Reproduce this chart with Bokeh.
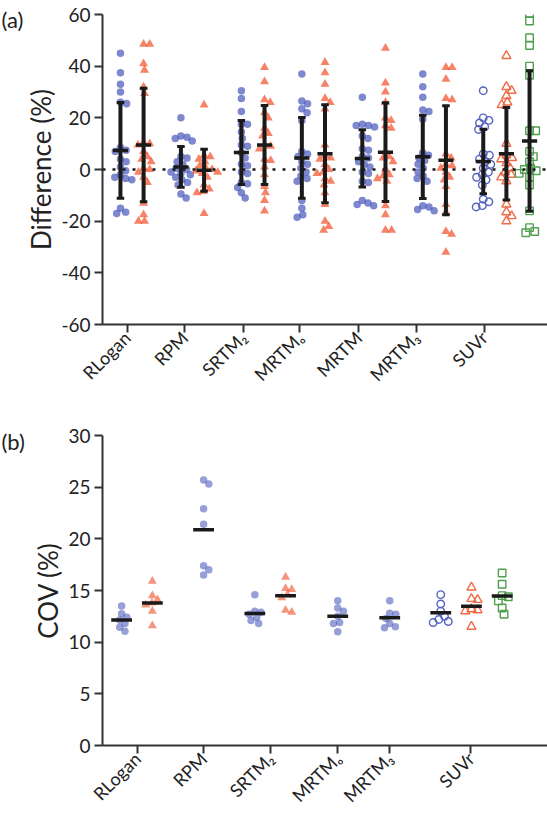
import numpy as np
from bokeh.plotting import figure
from bokeh.models import Range1d, FixedTicker, Span, Label
from bokeh.layouts import column
from bokeh.embed import file_html
from bokeh.resources import INLINE

# ---------------- data: panel (a) Difference (%) ----------------
top_labels = ["RLogan", "RPM", "SRTM\u2082", "MRTM\u2092", "MRTM", "MRTM\u2083", "SUVr"]
top_yticks = [-60, -40, -20, 0, 20, 40, 60]

rlogan_a = [45, 37.5, 33, 30, 26, 25.5, 8.5, 7.5, 7, 4, 3, 1, -0.5, -2, -3, -3.5, -4, -15, -16.5, -17]
rlogan_b = [48.5, 48.5, 41, 38.5, 32, 29.5, 10.5, 10, 9.5, 7, 5, 4, 3, 0.5, 0, -1, -3, -5, -13, -17.5, -20, -20]
rpm_a = [20, 13, 12.5, 12, 11, 5, 4.5, 3, 2, 0.5, 0, -1, -1.5, -2, -3, -4, -5, -6, -9.5, -11]
rpm_b = [25, 5.5, 5, 4, 3, 1.5, 0.5, 0, -0.5, -1, -1.5, -3, -6, -7.5, -8.5, -9, -17]
srtm2_a = [30.5, 27.5, 22.5, 17.5, 17.5, 14.5, 12, 9.5, 9, 6.5, 4.5, 2, 1.5, -1, -1.5, -5, -5.5, -7, -9, -11]
srtm2_b = [39.5, 34, 27, 26, 22, 20, 16, 14, 13, 9.5, 9, 8, 4, 3.5, 1, -2, -6.5, -9, -12, -16]
mrtmo_a = [37, 26.5, 25.5, 23.5, 22, 19, 7, 6, 5, 3, 2, 0.5, -1, -2.5, -3.5, -4.5, -12, -15, -17.5, -18.5]
mrtmo_b = [41.5, 37.5, 33, 27.5, 26, 23.5, 9.5, 5.5, 4.5, 4, 2, 0, -1, -1.5, -3.5, -4.5, -6, -9, -13.5, -20, -22, -23.5]
mrtm_a = [28, 17.5, 17, 17, 16.5, 13, 12, 8, 7.5, 5, 4.5, 3, 2, 1, -1, -1.5, -4.5, -5, -12, -13, -13.5, -14]
mrtm_b = [47, 33.5, 30, 26, 20, 19, 17, 16, 7, 5, 4.5, 3, 0, -2, -2.5, -3.5, -4.5, -14, -17.5, -23.5, -23.5]
mrtm3_a = [37, 32, 28, 23, 22.5, 19.5, 6.5, 5.5, 4.5, 3.5, 2, 0.5, -1, -2.5, -3.5, -4.5, -14, -14.5, -15.5, -16]
mrtm3_b = [39.5, 39.5, 35, 27.5, 27, 6, 4.5, 2, 1.5, 0.5, -1, -3, -4, -6.5, -13.5, -16.5, -24, -25, -32]
suvr_a = [30.5, 20, 19, 18, 16.5, 15.5, 6, 5.5, 4, 3, 2, 0.5, -1, -2, -3, -4, -6, -11.5, -12.5, -14, -14.5]
suvr_b = [44, 32, 30.5, 28.5, 26, 25, 10, 5.5, 4.5, 4, 2.5, 0.5, -1, -2, -3, -4.5, -13.5, -16.5, -18, -20]
suvr_c = [60.5, 57.5, 51, 48, 40, 36.5, 15, 15, 7, 5, 3, 0.5, 0, -0.5, -1.5, -3, -6, -16, -22.5, -24, -24.5]

# mean and SD (error bars) per column
diff_mean = [7.4, 9.5, 1.0, -0.3, 6.6, 9.5, 4.5, 6.1, 4.3, 6.7, 4.9, 3.6, 3.1, 6.1, 11.0]
diff_sd = [18.5, 22.0, 7.9, 8.1, 12.4, 15.3, 15.6, 19.0, 11.1, 19.1, 16.1, 21.1, 12.5, 17.9, 27.2]

# ---------------- data: panel (b) COV (%) ----------------
bot_labels = ["RLogan", "RPM", "SRTM\u2082", "MRTM\u2092", "MRTM\u2083", "SUVr"]
bot_yticks = [0, 5, 10, 15, 20, 25, 30]

cov_rlogan_a = [13.5, 12.75, 12.4, 12.15, 11.8, 11.45, 11.05]
cov_rlogan_b = [15.9, 14.5, 14.1, 13.8, 13.6, 13.0, 11.6]
cov_rpm_a = [25.7, 25.3, 22.9, 21.4, 17.4, 17.0, 16.5]
cov_srtm2_a = [14.6, 13.0, 12.9, 12.7, 12.4, 12.1, 11.8]
cov_srtm2_b = [16.3, 15.2, 15.1, 14.6, 14.3, 13.1, 12.9]
cov_mrtmo_a = [14.0, 13.3, 13.0, 12.5, 11.9, 11.8, 11.0]
cov_mrtm3_a = [14.0, 12.8, 12.7, 12.3, 11.8, 11.5, 11.4]
cov_suvr_a = [14.6, 13.7, 13.0, 12.5, 12.2, 12.0, 11.9]
cov_suvr_b = [15.3, 14.2, 14.1, 13.2, 13.1, 13.0, 11.5]
cov_suvr_c = [16.7, 15.6, 14.5, 14.4, 14.0, 13.3, 12.7]

# ---------------- styles ----------------
FONT = "Lato"
BLUE = "#4150b8"
ORANGE = "#f2532e"
GREEN = "#4f9f4f"
OBLUE = "#5563c0"
OORANGE = "#ef6a47"
INK = "#1a1a1a"
TXT = "#222222"

STYLE = {
    "a": dict(marker="circle", fill_color=BLUE, fill_alpha=0.68, line_alpha=0, size=7.5),
    "b": dict(marker="triangle", fill_color=ORANGE, fill_alpha=0.72, line_alpha=0, size=9),
    "oa": dict(marker="circle", fill_alpha=0, line_color=OBLUE, line_width=1.4, size=7.5),
    "ob": dict(marker="triangle", fill_alpha=0, line_color=OORANGE, line_width=1.4, size=9),
    "oc": dict(marker="square", fill_alpha=0, line_color=GREEN, line_width=1.4, size=7.5),
}


def swarm(vals, cx, px_per_unit, d=6.5):
    vals = list(vals)
    order = sorted(range(len(vals)), key=lambda i: -vals[i])
    placed = []
    xs = [0.0] * len(vals)
    cands = [0.0]
    for k in range(1, 80):
        cands += [0.5 * k, -0.5 * k]
    for i in order:
        yv = vals[i] * px_per_unit
        chosen = cands[-1]
        for off in cands:
            if all((off - px) ** 2 + (yv - py) ** 2 >= d * d for px, py in placed):
                chosen = off
                break
        placed.append((chosen, yv))
        xs[i] = cx + chosen
    return xs


def style_axes(p, ylabel, yticks):
    for ax in (p.xaxis[0], p.yaxis[0]):
        ax.axis_line_width = 2
        ax.axis_line_color = "#333333"
        ax.major_tick_line_width = 2
        ax.major_tick_line_color = "#333333"
        ax.major_tick_out = 8
        ax.major_tick_in = 0
        ax.minor_tick_line_color = None
        ax.major_label_text_font = FONT
        ax.major_label_text_color = TXT
    p.yaxis.ticker = FixedTicker(ticks=yticks)
    p.yaxis.major_label_overrides = {t: str(t) for t in yticks}
    p.yaxis.major_label_text_font_size = "19px"
    p.xaxis.major_label_text_font_size = "18px"
    p.yaxis.axis_label = ylabel
    p.yaxis.axis_label_text_font = FONT
    p.yaxis.axis_label_text_font_size = "26px"
    p.yaxis.axis_label_text_font_style = "normal"
    p.yaxis.axis_label_text_color = TXT
    p.yaxis.axis_label_standoff = 1
    p.yaxis.major_label_standoff = 4
    p.xaxis.major_label_orientation = np.pi / 4
    p.xaxis.major_label_standoff = 2
    p.xgrid.visible = False
    p.ygrid.visible = False
    p.outline_line_color = None


def panel_tag(p, text, yval):
    lab = Label(x=1, y=yval, x_units="canvas", y_units="data", text=text,
                text_font=FONT, text_font_size="22px", text_color=TXT,
                text_baseline="middle", text_align="left")
    p.add_layout(lab, "left")


# ---------------- panel (a) ----------------
FW = 471
p1 = figure(width=547, height=400, x_range=Range1d(0, FW), y_range=Range1d(-60, 60),
            output_backend="svg", toolbar_location=None,
            min_border_left=76, min_border_right=0, min_border_top=14, min_border_bottom=76)
style_axes(p1, "Difference (%)", top_yticks)
top_ticks = [26, 87, 149, 209, 271, 332, 404]
p1.xaxis.ticker = FixedTicker(ticks=top_ticks)
p1.xaxis.major_label_overrides = {t: l for t, l in zip(top_ticks, top_labels)}

p1.add_layout(Span(location=0, dimension="width", line_color=INK, line_width=2.5, line_dash="3 7"))

top_series = [rlogan_a, rlogan_b, rpm_a, rpm_b, srtm2_a, srtm2_b, mrtmo_a, mrtmo_b,
              mrtm_a, mrtm_b, mrtm3_a, mrtm3_b, suvr_a, suvr_b, suvr_c]
top_kind = ["a", "b"] * 6 + ["oa", "ob", "oc"]
top_group = [0, 0, 1, 1, 2, 2, 3, 3, 4, 4, 5, 5, 6, 6, 6]
top_slot = [0, 1] * 6 + [0, 1, 2]
top_cx = [19 + 64 * g + 24.5 * s for g, s in zip(top_group, top_slot)]
px_top = 310 / 120.0

for vals, kind, cx in zip(top_series, top_kind, top_cx):
    xs = swarm(vals, cx, px_top)
    p1.scatter(xs, vals, **STYLE[kind])

lo = [m - s for m, s in zip(diff_mean, diff_sd)]
hi = [m + s for m, s in zip(diff_mean, diff_sd)]
p1.segment(top_cx, lo, top_cx, hi, line_color=INK, line_width=4)
p1.segment([c - 4 for c in top_cx], hi, [c + 4 for c in top_cx], hi, line_color=INK, line_width=3)
p1.segment([c - 4 for c in top_cx], lo, [c + 4 for c in top_cx], lo, line_color=INK, line_width=3)
p1.segment([c - 8 for c in top_cx], diff_mean, [c + 8 for c in top_cx], diff_mean,
           line_color=INK, line_width=3.5)

panel_tag(p1, "(a)", 58)

# ---------------- panel (b) ----------------
p2 = figure(width=547, height=417, x_range=Range1d(0, FW), y_range=Range1d(0, 30),
            output_backend="svg", toolbar_location=None,
            min_border_left=76, min_border_right=0, min_border_top=35, min_border_bottom=71)
style_axes(p2, "COV (%)", bot_yticks)
bot_ticks = [37, 107, 178, 249, 304, 390]
p2.xaxis.ticker = FixedTicker(ticks=bot_ticks)
p2.xaxis.major_label_overrides = {t: l for t, l in zip(bot_ticks, bot_labels)}

bot_series = [cov_rlogan_a, cov_rlogan_b, cov_rpm_a, cov_srtm2_a, cov_srtm2_b,
              cov_mrtmo_a, cov_mrtm3_a, cov_suvr_a, cov_suvr_b, cov_suvr_c]
bot_kind = ["a", "b", "a", "a", "b", "a", "a", "oa", "ob", "oc"]
bot_center = [36.5, 107, 177.5, 249, 304, 390.5]
bot_group = [0, 0, 1, 2, 2, 3, 4, 5, 5, 5]
bot_off = [-16.25, 16.25, 0, -16.25, 16.25, 0, 0, -32.5, 0, 32.5]
bot_cx = [bot_center[g] + o for g, o in zip(bot_group, bot_off)]
px_bot = 311 / 30.0

bot_style = dict(STYLE)
bot_style["a"] = dict(STYLE["a"], fill_alpha=0.55)
bot_style["b"] = dict(STYLE["b"], fill_alpha=0.62)

for vals, kind, cx in zip(bot_series, bot_kind, bot_cx):
    xs = swarm(vals, cx, px_bot)
    p2.scatter(xs, vals, **bot_style[kind])

bot_mean = [float(np.mean(v)) for v in bot_series]
p2.segment([c - 11 for c in bot_cx], bot_mean, [c + 11 for c in bot_cx], bot_mean,
           line_color=INK, line_width=3.5)

panel_tag(p2, "(b)", 29.4)

layout = column(p1, p2, spacing=0)
open("out.html", "w").write(file_html(layout, INLINE))
